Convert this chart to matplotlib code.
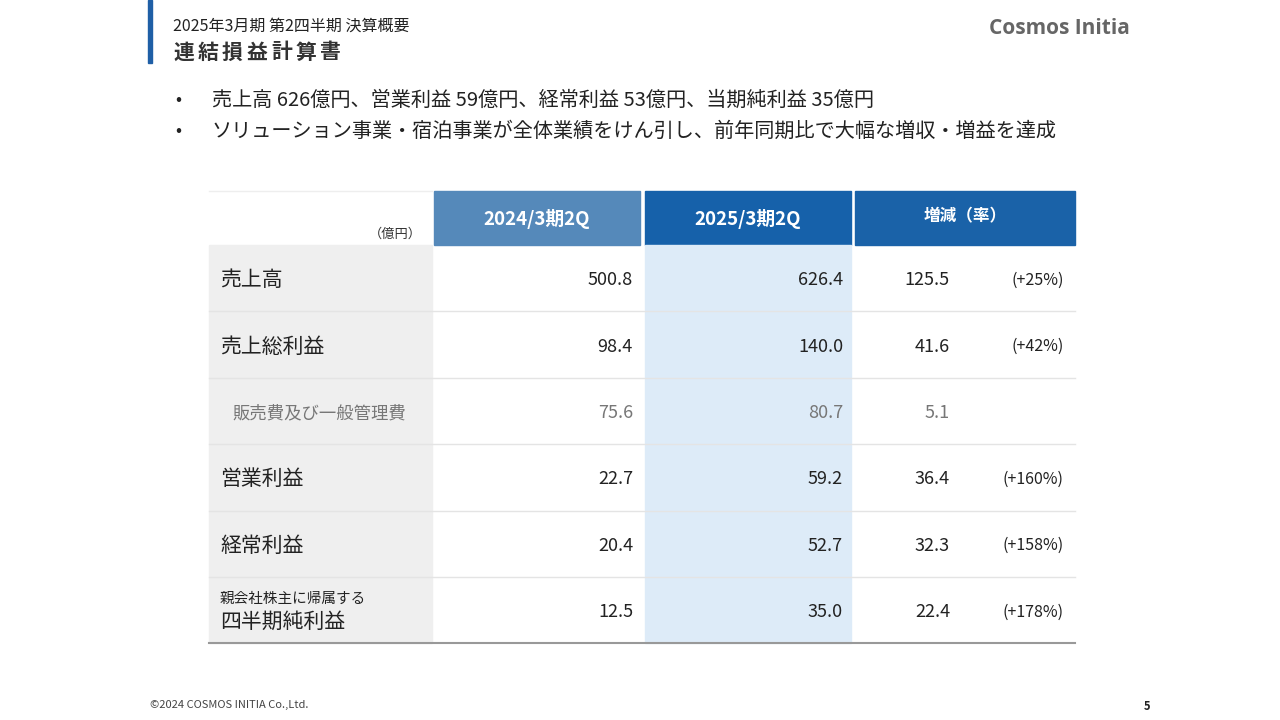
import matplotlib
matplotlib.use("Agg")
import matplotlib.pyplot as plt
from matplotlib.patches import Rectangle

plt.rcParams['font.family'] = ['Noto Sans CJK JP', 'DejaVu Sans']

row_labels = ["売上高", "売上総利益", "販売費及び一般管理費", "営業利益", "経常利益", "四半期純利益"]
prev = [500.8, 98.4, 75.6, 22.7, 20.4, 12.5]
curr = [626.4, 140.0, 80.7, 59.2, 52.7, 35.0]
diff = [125.5, 41.6, 5.1, 36.4, 32.3, 22.4]
rate = ["(+25%)", "(+42%)", "", "(+160%)", "(+158%)", "(+178%)"]
headers = ["2024/3期2Q", "2025/3期2Q", "増減（率）"]

fig = plt.figure(figsize=(12.8, 7.2), dpi=100)
ax = fig.add_axes([0, 0, 1, 1])
ax.set_xlim(0, 1280); ax.set_ylim(720, 0); ax.axis('off')

# title bar
ax.add_patch(Rectangle((148, 0), 4, 63, color='#1F5FA6'))
ax.text(173, 26, "2025年3月期 第2四半期 決算概要", fontsize=11.5, va='center', color='#222')
title = "連結損益計算書"
for k, ch in enumerate(title):
    ax.text(173 + k * 24.5, 52, ch, fontsize=15, va='center', weight='bold', color='#333')
ax.text(1130, 28, "Cosmos Initia", fontsize=15, va='center', ha='right', color='#666', family='Open Sans', weight='bold')

ax.text(175, 100, "•", fontsize=13, va='center', color='#222')
ax.text(212, 100, "売上高 626億円、営業利益 59億円、経常利益 53億円、当期純利益 35億円", fontsize=14.5, va='center', color='#222')
ax.text(175, 131, "•", fontsize=13, va='center', color='#222')
ax.text(212, 131, "ソリューション事業・宿泊事業が全体業績をけん引し、前年同期比で大幅な増収・増益を達成", fontsize=14.5, va='center', color='#222')

# header
top, hh = 191, 54
cols = [(434, 640), (645, 851), (855, 1075)]
hcol = ['#5589BA', '#1661AA', '#1A62A8']
for (x0, x1), c, h in zip(cols, hcol, headers):
    ax.add_patch(Rectangle((x0, top), x1 - x0, hh, color=c))
    ax.text((x0 + x1) / 2, top + (25 if h == headers[2] else 28), h, color='white', fontsize=13.5 if h != headers[2] else 12,
            ha='center', va='center', weight='bold')
ax.text(422, 234, "（億円）", fontsize=9.5, ha='right', va='center', color='#333')
ax.plot([209, 432], [191, 191], color='#eeeeee', lw=1)

y0, rh = 245, 66.4
n = len(row_labels)
ax.add_patch(Rectangle((209, y0), 223, rh * n, color='#EFEFEF'))
ax.add_patch(Rectangle((645, y0), 206, rh * n, color='#DDEBF8'))
for i in range(n):
    yc = y0 + rh * (i + 0.5) + 2
    if i > 0:
        ax.plot([209, 1075], [y0 + rh * i] * 2, color='#E4E4E4', lw=1)
    sub = (i == 2)
    col = '#777' if sub else '#222'
    if i == n - 1:
        ax.text(220, yc - 13, "親会社株主に帰属する", fontsize=10.5, va='center', color=col)
        ax.text(220, yc + 10, row_labels[i], fontsize=15, va='center', color=col)
    elif sub:
        ax.text(232, yc, row_labels[i], fontsize=12.5, va='center', color=col)
    else:
        ax.text(220, yc, row_labels[i], fontsize=15, va='center', color=col)
    ax.text(633, yc, f"{prev[i]:.1f}", fontsize=13, ha='right', va='center', color=col)
    ax.text(843, yc, f"{curr[i]:.1f}", fontsize=13, ha='right', va='center', color=col)
    ax.text(950, yc, f"{diff[i]:.1f}", fontsize=13, ha='right', va='center', color=col)
    ax.text(1064, yc, rate[i], fontsize=11.5, ha='right', va='center', color='#222')
ax.plot([209, 1075], [y0 + rh * n] * 2, color='#999', lw=1.5)

ax.text(150, 705, "©2024 COSMOS INITIA Co.,Ltd.", fontsize=8, va='center', color='#444')
ax.text(1150, 707, "5", fontsize=8, va='center', ha='right', color='#222', weight='bold')

fig.savefig("out.png", dpi=100)
